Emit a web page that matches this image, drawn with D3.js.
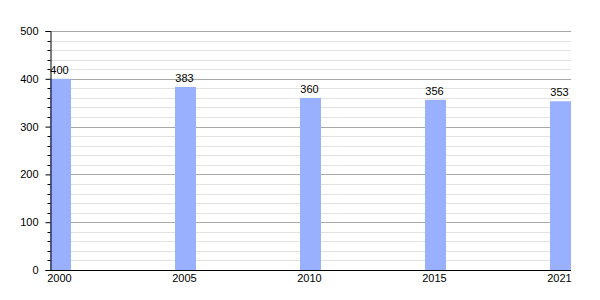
<!DOCTYPE html>
<html>
<head>
<meta charset="utf-8">
<script src="https://cdn.jsdelivr.net/npm/d3@7"></script>
<style>
  body { margin: 0; background: #fff; }
  text { font-family: "Liberation Sans", Arial, sans-serif; font-size: 11px; fill: #000; }
</style>
</head>
<body>
<div id="chart"></div>
<script>
// data
const years = ["2000", "2005", "2010", "2015", "2021"];
const values = [400, 383, 360, 356, 353];
const yTicks = [0, 100, 200, 300, 400, 500];

const W = 600, H = 300;
const plot = {left: 50, right: 571, top: 31, bottom: 270};
const barW = 21;

const svg = d3.select("#chart").append("svg")
    .attr("width", W)
    .attr("height", H);

const x = d3.scalePoint()
    .domain(years)
    .range([plot.left, plot.right - barW]);

const y = d3.scaleLinear()
    .domain([0, 500])
    .range([plot.bottom, plot.top]);

// minor grid every 20
const minor = d3.range(20, 500, 20).filter(v => v % 100 !== 0);
svg.append("g").selectAll("line")
    .data(minor)
    .enter().append("line")
    .attr("x1", plot.left).attr("x2", plot.right)
    .attr("y1", d => Math.round(y(d)) + 0.5)
    .attr("y2", d => Math.round(y(d)) + 0.5)
    .attr("stroke", "#e2e2e2");

// major grid
svg.append("g").selectAll("line")
    .data(yTicks.filter(v => v > 0))
    .enter().append("line")
    .attr("x1", plot.left).attr("x2", plot.right)
    .attr("y1", d => Math.round(y(d)) + 0.5)
    .attr("y2", d => Math.round(y(d)) + 0.5)
    .attr("stroke", "#a8a8a8");

// bars
svg.append("g").selectAll("rect")
    .data(values)
    .enter().append("rect")
    .attr("x", (d, i) => x(years[i]))
    .attr("y", d => y(d))
    .attr("width", barW)
    .attr("height", d => plot.bottom - y(d))
    .attr("fill", "#99b0ff");

// value labels
svg.append("g").selectAll("text")
    .data(values)
    .enter().append("text")
    .attr("x", (d, i) => x(years[i]) + barW / 2 - 1)
    .attr("y", d => y(d) - 5)
    .attr("text-anchor", "middle")
    .text(d => d);

// y axis with minor ticks
const yAxis = svg.append("g")
    .attr("transform", "translate(" + (plot.left + 0.5) + ",0)")
    .call(d3.axisLeft(y).tickValues(yTicks).tickSize(5).tickPadding(7));
yAxis.select(".domain").attr("stroke", "#000");
yAxis.selectAll("text").style("font-size", "11px").attr("font-family", null);
yAxis.append("g").selectAll("line")
    .data(minor)
    .enter().append("line")
    .attr("x1", -3).attr("x2", 0)
    .attr("y1", d => Math.round(y(d)) + 0.5)
    .attr("y2", d => Math.round(y(d)) + 0.5)
    .attr("stroke", "#000");

// x axis
svg.append("line")
    .attr("x1", plot.left).attr("x2", plot.right)
    .attr("y1", plot.bottom + 0.5).attr("y2", plot.bottom + 0.5)
    .attr("stroke", "#000");
svg.append("g").selectAll("text")
    .data(years)
    .enter().append("text")
    .attr("x", d => x(d) + barW / 2 - 1)
    .attr("y", plot.bottom + 12)
    .attr("text-anchor", "middle")
    .text(d => d);
</script>
</body>
</html>
